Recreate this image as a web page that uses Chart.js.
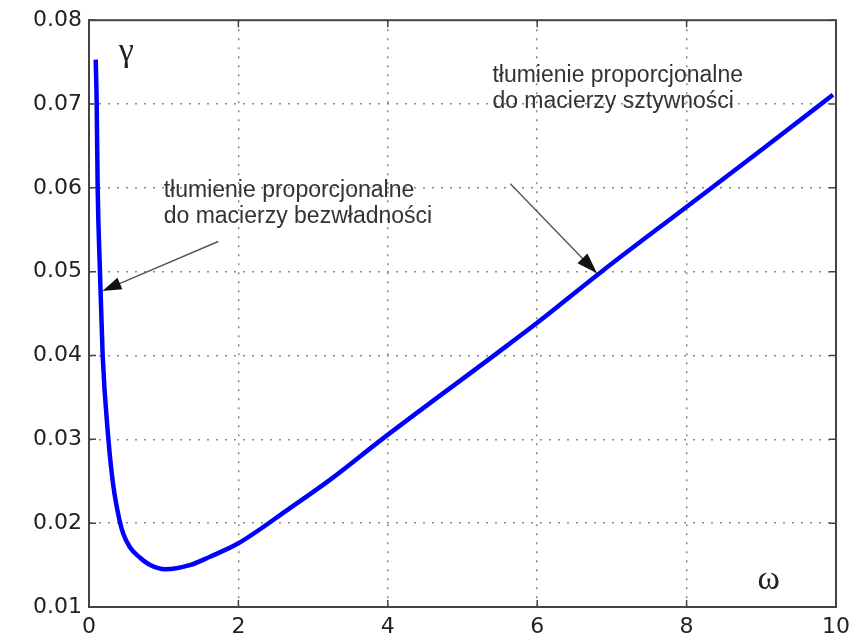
<!DOCTYPE html>
<html>
<head>
<meta charset="utf-8">
<script src="https://cdn.jsdelivr.net/npm/chart.js@4.4.1/dist/chart.umd.min.js"></script>
<style>
  html, body { margin: 0; padding: 0; background: #fff; }
  #wrap { width: 861px; height: 639px; position: relative; }
</style>
</head>
<body>
<div id="wrap"><canvas id="dampChart"></canvas></div>
<script>
// omega values
const omega = [0.09, 0.103, 0.116, 0.147, 0.183, 0.26, 0.325, 0.415, 0.46, 0.55, 0.68, 0.82, 1.02,
    1.35, 1.62, 2.0, 2.69, 3.23, 3.92, 5.45, 6.0, 6.86, 7.98, 9.07, 9.96];
// damping ratio gamma at each omega
const gamma = [0.0753, 0.07, 0.06, 0.05, 0.04, 0.03, 0.0245, 0.0201, 0.0187, 0.0171, 0.0159, 0.015, 0.0145,
    0.015, 0.016, 0.0176, 0.0218, 0.0252, 0.03, 0.0402, 0.0439, 0.05, 0.0576, 0.065, 0.0711];

const xTicks = [0, 2, 4, 6, 8, 10];
const yTicks = [0.01, 0.02, 0.03, 0.04, 0.05, 0.06, 0.07, 0.08];

// annotation texts, anchored in data coordinates [omega, gamma]
const massNote = ['tłumienie proporcjonalne', 'do macierzy bezwładności'];
const stiffNote = ['tłumienie proporcjonalne', 'do macierzy sztywności'];
const massNoteAt = [1.0, 0.0597];
const stiffNoteAt = [5.4, 0.0734];
const massArrow = [[1.73, 0.0536], [0.18, 0.0477]];
const stiffArrow = [[5.64, 0.0605], [6.8, 0.0498]];
const gammaLabelAt = [0.5, 0.0762];
const omegaLabelAt = [9.1, 0.0132];

const points = omega.map((w, i) => ({ x: w, y: gamma[i] }));

const frameColor = '#444';

// box round the plot, inward tick marks and the annotations
const decorPlugin = {
    id: 'decor',
    afterDraw(chart) {
        const ctx = chart.ctx;
        const area = chart.chartArea;
        const xs = chart.scales.x;
        const ys = chart.scales.y;
        ctx.save();
        ctx.strokeStyle = frameColor;
        ctx.lineWidth = 2;
        ctx.strokeRect(area.left, area.top, area.right - area.left, area.bottom - area.top);

        ctx.lineWidth = 1.5;
        ctx.beginPath();
        xTicks.forEach(v => {
            const px = xs.getPixelForValue(v);
            ctx.moveTo(px, area.bottom); ctx.lineTo(px, area.bottom - 7);
            ctx.moveTo(px, area.top); ctx.lineTo(px, area.top + 7);
        });
        yTicks.forEach(v => {
            const py = ys.getPixelForValue(v);
            ctx.moveTo(area.left, py); ctx.lineTo(area.left + 7, py);
            ctx.moveTo(area.right, py); ctx.lineTo(area.right - 7, py);
        });
        ctx.stroke();

        // arrows
        const drawArrow = (from, to, head) => {
            const x1 = xs.getPixelForValue(from[0]), y1 = ys.getPixelForValue(from[1]);
            const x2 = xs.getPixelForValue(to[0]), y2 = ys.getPixelForValue(to[1]);
            const ang = Math.atan2(y2 - y1, x2 - x1);
            ctx.strokeStyle = '#555';
            ctx.lineWidth = 1.4;
            ctx.beginPath();
            ctx.moveTo(x1, y1);
            ctx.lineTo(x2 - Math.cos(ang) * head * 0.8, y2 - Math.sin(ang) * head * 0.8);
            ctx.stroke();
            ctx.fillStyle = '#111';
            ctx.beginPath();
            ctx.moveTo(x2, y2);
            ctx.lineTo(x2 - head * Math.cos(ang - 0.32), y2 - head * Math.sin(ang - 0.32));
            ctx.lineTo(x2 - head * Math.cos(ang + 0.32), y2 - head * Math.sin(ang + 0.32));
            ctx.closePath();
            ctx.fill();
        };
        drawArrow(massArrow[0], massArrow[1], 20);
        drawArrow(stiffArrow[0], stiffArrow[1], 22);

        // notes
        ctx.fillStyle = '#333';
        ctx.font = '23px "Liberation Sans", Arial, sans-serif';
        ctx.textAlign = 'left';
        ctx.textBaseline = 'middle';
        const note = (lines, at) => {
            const x = xs.getPixelForValue(at[0]);
            const y = ys.getPixelForValue(at[1]);
            lines.forEach((t, i) => ctx.fillText(t, x, y + i * 26));
        };
        note(massNote, massNoteAt);
        note(stiffNote, stiffNoteAt);

        ctx.fillStyle = '#222';
        ctx.textAlign = 'center';
        ctx.font = '34px "Liberation Serif", serif';
        ctx.fillText('γ', xs.getPixelForValue(gammaLabelAt[0]), ys.getPixelForValue(gammaLabelAt[1]));
        ctx.fillText('ω', xs.getPixelForValue(omegaLabelAt[0]), ys.getPixelForValue(omegaLabelAt[1]));
        ctx.restore();
    }
};

const dotted = {
    color: ctx => (ctx.tick && (ctx.index === 0 || ctx.index === ctx.scale.ticks.length - 1)) ? 'rgba(0,0,0,0)' : '#888',
    lineWidth: 1.5,
    drawTicks: false
};

new Chart(document.getElementById('dampChart'), {
    type: 'line',
    data: {
        datasets: [{
            data: points,
            borderColor: '#0000ff',
            borderWidth: 4.5,
            pointRadius: 0,
            cubicInterpolationMode: 'monotone',
            fill: false
        }]
    },
    options: {
        responsive: true,
        maintainAspectRatio: false,
        animation: false,
        layout: { padding: { top: 20, right: 25, left: 0, bottom: 0 } },
        plugins: {
            legend: { display: false },
            tooltip: { enabled: false }
        },
        scales: {
            x: {
                type: 'linear',
                min: 0,
                max: 10,
                afterBuildTicks: s => { s.ticks = xTicks.map(v => ({ value: v })); },
                afterFit: s => { s.height = 32; },
                grid: dotted,
                border: { display: true, color: frameColor, width: 2, dash: [2, 7] },
                ticks: {
                    color: '#222',
                    padding: 7,
                    maxRotation: 0,
                    font: { family: '"DejaVu Sans", sans-serif', size: 22 }
                }
            },
            y: {
                min: 0.01,
                max: 0.08,
                afterBuildTicks: s => { s.ticks = yTicks.map(v => ({ value: v })); },
                afterFit: s => { s.width = 89; },
                grid: dotted,
                border: { display: true, color: frameColor, width: 2, dash: [2, 7] },
                ticks: {
                    color: '#222',
                    padding: 7,
                    callback: v => v.toFixed(2),
                    font: { family: '"DejaVu Sans", sans-serif', size: 22 }
                }
            }
        }
    },
    plugins: [decorPlugin]
});
</script>
</body>
</html>
